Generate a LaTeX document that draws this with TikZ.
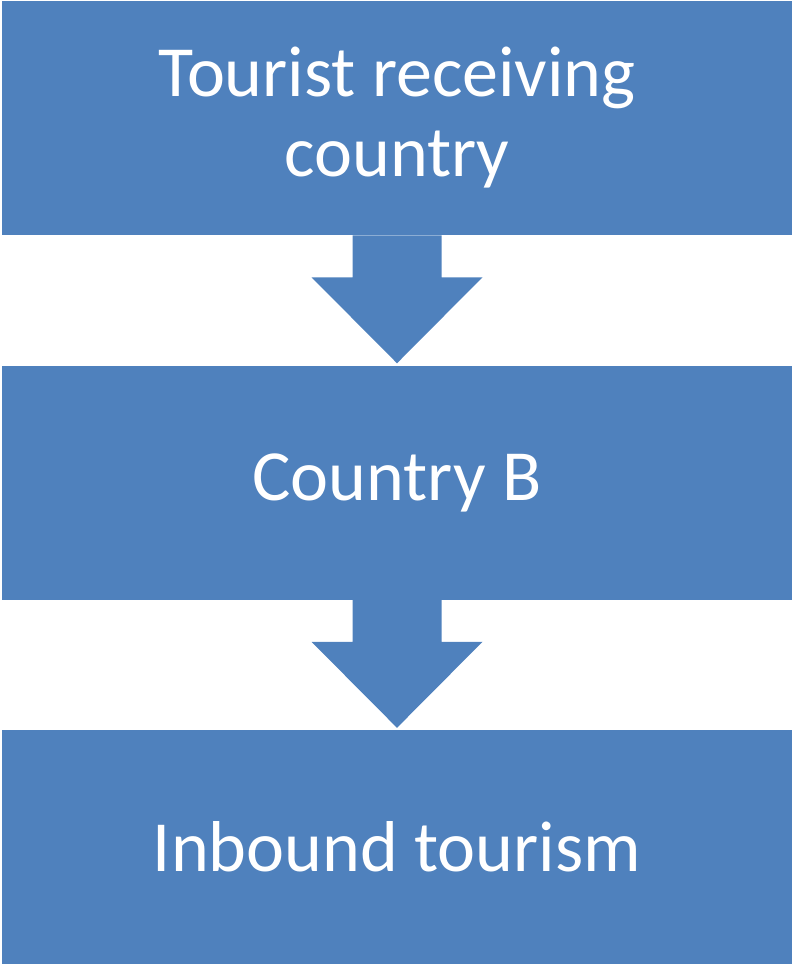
\documentclass[tikz,border=0pt]{standalone}
\usepackage{fontspec}
\setmainfont{Carlito}
\usepackage{tikz}
\usetikzlibrary{positioning,calc}

\definecolor{stepblue}{HTML}{4F81BD}

\begin{document}
\begin{tikzpicture}[
    x=0.75pt, y=-0.75pt,
    node distance=97.5pt,
    every node/.style={fill=stepblue, text=white, align=center, minimum width=592.5pt, minimum height=175.5pt, inner sep=0pt, font=\fontsize{54}{60}\selectfont},
    blockarrow/.style={fill=stepblue}
    ]
    \useasboundingbox (0,0) rectangle (793,964);

    % Boxes
    \node (receiving) at (397,118) {Tourist receiving\\country};
    \node (countryB) [below=of receiving] {Country B};
    \node (inbound) [below=of countryB] {Inbound tourism};

    % Arrows
    \foreach \a/\b in {receiving/countryB, countryB/inbound} {
        \fill[blockarrow] ($(\a.south)+(-44.5,0)$) -- ($(\a.south)+(44.5,0)$) -- ++(0,42)
            -- ++(41,0) -- ($(\b.north)+(0,-2)$) -- ($(\a.south)+(-85.5,42)$)
            -- ($(\a.south)+(-44.5,42)$) -- cycle;
    }

\end{tikzpicture}
\end{document}
